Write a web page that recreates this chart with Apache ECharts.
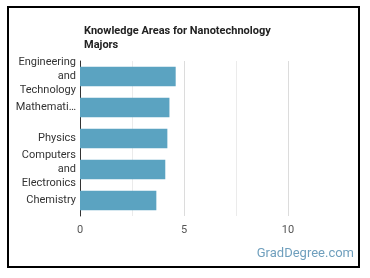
<!DOCTYPE html>
<html><head><meta charset="utf-8">
<script src="https://cdn.jsdelivr.net/npm/echarts@6/dist/echarts.min.js"></script>
<style>html,body{margin:0;padding:0;background:#fff}#c{width:370px;height:278px}</style>
</head><body><div id="c"></div>
<script>
const categories = ["Engineering and Technology", "Mathematics", "Physics", "Computers and Electronics", "Chemistry"];
const tickLabels = ["Engineering\nand\nTechnology", "Mathemati…", "Physics", "Computers\nand\nElectronics", "Chemistry"];
const values = [4.6, 4.3, 4.2, 4.1, 3.67];
const xTicks = [0, 5, 10];

const chart = echarts.init(document.getElementById('c'), null, {renderer: 'canvas'});
chart.setOption({
  animation: false,
  backgroundColor: '#fff',
  title: {
    text: 'Knowledge Areas for Nanotechnology\nMajors',
    left: 79, top: 19,
    textStyle: {fontFamily: 'Roboto', fontSize: 11, fontWeight: 'bold', color: '#222', lineHeight: 14}
  },
  graphic: [
    {type: 'rect', shape: {x: 8, y: 7, width: 351, height: 260}, style: {fill: 'none', stroke: '#000', lineWidth: 2}, silent: true},
    {type: 'text', right: 16, top: 247, style: {text: 'GradDegree.com', fontFamily: 'Roboto', fontSize: 13, fill: '#6f9fbd'}}
  ],
  grid: {left: 80, right: 30, top: 61, bottom: 62, containLabel: false},
  xAxis: {
    type: 'value', min: 0, max: 12.5, interval: 2.5,
    axisLine: {show: false}, axisTick: {show: false},
    axisLabel: {
      fontFamily: 'Roboto', fontSize: 11, color: '#555', margin: 9,
      showMaxLabel: false,
      formatter: v => xTicks.indexOf(v) >= 0 ? String(v) : ''
    },
    splitLine: {show: true, lineStyle: {color: ['#ccc', '#ebebeb', '#dcdcdc', '#ebebeb', '#dcdcdc', 'rgba(0,0,0,0)'], width: 1}}
  },
  yAxis: {
    type: 'category', inverse: true, data: categories,
    axisLine: {show: true, lineStyle: {color: '#333', width: 1}},
    axisTick: {show: false},
    axisLabel: {
      fontFamily: 'Roboto', fontSize: 11, color: '#333', margin: 4, lineHeight: 14, align: 'right',
      formatter: (v, i) => tickLabels[categories.indexOf(v)]
    }
  },
  series: [{
    type: 'bar', data: values, barCategoryGap: '37%',
    itemStyle: {color: '#5ba3c1'}
  }]
});
</script></body></html>
